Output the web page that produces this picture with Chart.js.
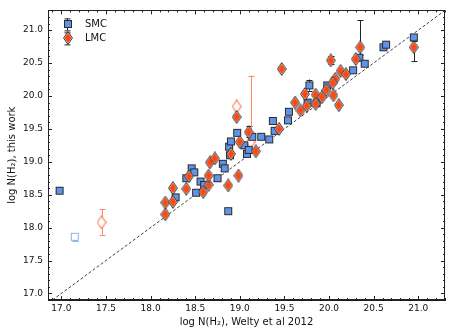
<!DOCTYPE html>
<html><head><meta charset="utf-8">
<script src="https://cdn.jsdelivr.net/npm/chart.js@4/dist/chart.umd.min.js"></script>
<style>html,body{margin:0;padding:0;background:#fff}</style>
</head><body>
<canvas id="c" width="452" height="336"></canvas>
<script>
// ---- data ----
const smcX = [16.98,18.28,18.40,18.46,18.49,18.51,18.56,18.60,18.75,18.87,18.81,18.83,18.89,18.88,18.90,18.97,19.05,19.08,19.10,19.14,19.24,19.33,19.37,19.39,19.55,19.54,19.78,19.76,19.86,19.98,20.27,20.34,20.40,20.61,20.64,20.95];
const smcY = [18.56,18.46,18.75,18.90,18.84,18.53,18.70,18.65,18.75,18.25,18.97,18.90,19.10,19.23,19.31,19.44,19.25,19.12,19.18,19.38,19.38,19.34,19.62,19.47,19.76,19.63,20.16,19.90,19.89,20.16,20.39,20.58,20.49,20.74,20.78,20.89];
const lmcX = [18.165,18.165,18.25,18.25,18.40,18.43,18.59,18.65,18.65,18.665,18.72,18.87,18.985,18.90,18.965,19.00,19.10,19.18,19.44,19.47,19.68,19.62,19.75,19.73,19.85,19.85,19.92,19.97,20.05,20.11,20.02,20.07,20.04,20.13,20.19,20.30,20.35,20.95];
const lmcY = [18.20,18.38,18.39,18.60,18.59,18.78,18.54,18.65,18.79,18.99,19.05,18.64,18.79,19.12,19.68,19.30,19.45,19.16,19.50,20.41,19.78,19.90,19.85,20.03,20.02,19.88,19.98,20.09,20.01,19.86,20.54,20.26,20.20,20.38,20.33,20.56,20.74,20.74];
const smcOpenX = [17.15];
const smcOpenY = [17.86];
const lmcOpenX = [17.45,18.965,19.12];
const lmcOpenY = [18.08,19.84,19.30];
// error bars (x, low, high)
const smcErrX = [19.78,20.95];
const smcErrLo = [20.08,20.84];
const smcErrHi = [20.25,20.94];
const lmcErrX = [19.10,20.02,20.35,20.95];
const lmcErrLo = [19.38,20.48,20.62,20.53];
const lmcErrHi = [19.54,20.61,21.15,20.86];
const smcOpenErrX = [17.15];
const smcOpenErrLo = [17.80];
const smcOpenErrHi = [17.90];
const lmcOpenErrX = [17.45,19.12];
const lmcOpenErrLo = [17.88,19.20];
const lmcOpenErrHi = [18.28,20.31];
const xTicks = [17.0,17.5,18.0,18.5,19.0,19.5,20.0,20.5,21.0];
const yTicks = [17.0,17.5,18.0,18.5,19.0,19.5,20.0,20.5,21.0];
const diag = [16.9, 21.3];

// ---- marker images ----
function squareImg(fill, stroke){
  const c=document.createElement('canvas'); c.width=10; c.height=10;
  const g=c.getContext('2d');
  g.fillStyle=fill; g.fillRect(1,1,8,8);
  g.strokeStyle=stroke; g.lineWidth=1; g.strokeRect(1.5,1.5,7,7);
  return c;
}
function diamondImg(open){
  const c=document.createElement('canvas'); c.width=10; c.height=14;
  const g=c.getContext('2d');
  g.beginPath(); g.moveTo(5,0.6); g.lineTo(9.4,7); g.lineTo(5,13.4); g.lineTo(0.6,7); g.closePath();
  g.fillStyle= open ? '#ffffff' : '#e8e8e8'; g.fill();
  g.strokeStyle= open ? '#ff7a55' : '#333333'; g.lineWidth= open ? 1.1 : 1; g.stroke();
  if(!open){
    g.beginPath(); g.moveTo(5,1.9); g.lineTo(8.4,7); g.lineTo(5,12.1); g.lineTo(1.6,7); g.closePath();
    g.fillStyle='#ff4510'; g.fill();
  }
  return c;
}
const SQ = squareImg('#6193e6','#2b2b2b');
const SQO = squareImg('#ffffff','#8db1ee');
const DM = diamondImg(false);
const DMO = diamondImg(true);

const pts = (xs, ys) => xs.map((x,i)=>({x, y: ys[i]}));

const decor = {
  id:'decor',
  beforeDatasetsDraw(chart){
    const ctx=chart.ctx, xs=chart.scales.x, ys=chart.scales.y;
    const bars=[[smcErrX,smcErrLo,smcErrHi,'#222'],[lmcErrX,lmcErrLo,lmcErrHi,'#222'],
      [smcOpenErrX,smcOpenErrLo,smcOpenErrHi,'#8db1ee'],[lmcOpenErrX,lmcOpenErrLo,lmcOpenErrHi,'#ff8a66']];
    ctx.save(); ctx.lineWidth=1;
    bars.forEach(([X,L,H,col])=>{
      ctx.strokeStyle=col;
      X.forEach((x,i)=>{
        const px=Math.round(xs.getPixelForValue(x))+0.5, p1=ys.getPixelForValue(L[i]), p2=ys.getPixelForValue(H[i]);
        ctx.beginPath(); ctx.moveTo(px,p1); ctx.lineTo(px,p2);
        ctx.moveTo(px-3,Math.round(p1)+0.5); ctx.lineTo(px+3,Math.round(p1)+0.5);
        ctx.moveTo(px-3,Math.round(p2)+0.5); ctx.lineTo(px+3,Math.round(p2)+0.5);
        ctx.stroke();
      });
    });
    ctx.restore();
  },
  afterDraw(chart){
    const ctx=chart.ctx, a=chart.chartArea, xs=chart.scales.x, ys=chart.scales.y;
    ctx.save();
    ctx.strokeStyle='#222'; ctx.lineWidth=1;
    ctx.strokeRect(Math.round(a.left)+0.5, Math.round(a.top)+0.5, Math.round(a.right-a.left)-1, Math.round(a.bottom-a.top)-1);
    ctx.beginPath();
    for(let k=169;k<=213;k++){
      const v=k/10, major=(k%5===0), L=major?4:2;
      if(v>=16.85 && v<=21.3){
        const px=Math.round(xs.getPixelForValue(v))+0.5;
        ctx.moveTo(px,a.bottom); ctx.lineTo(px,a.bottom-L);
        ctx.moveTo(px,a.top); ctx.lineTo(px,a.top+L);
      }
      if(v>=16.9 && v<=21.3){
        const py=Math.round(ys.getPixelForValue(v))+0.5;
        ctx.moveTo(a.left,py); ctx.lineTo(a.left+L,py);
        ctx.moveTo(a.right,py); ctx.lineTo(a.right-L,py);
      }
    }
    ctx.stroke();
    // legend
    const lx=a.left+19;
    [[a.top+14,SQ,'SMC'],[a.top+28,DM,'LMC']].forEach(([y,img,t])=>{
      ctx.strokeStyle='#222';
      ctx.beginPath(); ctx.moveTo(lx+0.5,y-6); ctx.lineTo(lx+0.5,y+6);
      ctx.moveTo(lx-2.5,y-5.5); ctx.lineTo(lx+3.5,y-5.5);
      ctx.moveTo(lx-2.5,y+6.5); ctx.lineTo(lx+3.5,y+6.5); ctx.stroke();
      ctx.drawImage(img, Math.round(lx-img.width/2)+1, Math.round(y-img.height/2));
      ctx.fillStyle='#111'; ctx.font='10px "DejaVu Sans"'; ctx.textBaseline='middle'; ctx.textAlign='left';
      ctx.fillText(t, lx+18, y+0.5);
    });
    ctx.restore();
  }
};

new Chart(document.getElementById('c'), {
  type:'scatter',
  data:{datasets:[
    {label:'y=x', data:[{x:diag[0],y:diag[0]},{x:diag[1],y:diag[1]}], showLine:true, borderColor:'#444', borderWidth:1, borderDash:[3,2], pointRadius:0, order:10},
    {label:'SMC open', data:pts(smcOpenX,smcOpenY), pointStyle:SQO, order:3},
    {label:'LMC open', data:pts(lmcOpenX,lmcOpenY), pointStyle:DMO, order:3},
    {label:'SMC', data:pts(smcX,smcY), pointStyle:SQ, order:2},
    {label:'LMC', data:pts(lmcX,lmcY), pointStyle:DM, order:1}
  ]},
  options:{
    responsive:false, animation:false, devicePixelRatio:1,
    layout:{padding:{top:7,right:7,left:0,bottom:0}},
    plugins:{legend:{display:false}, tooltip:{enabled:false}},
    scales:{
      x:{type:'linear', min:16.85, max:21.3,
        afterBuildTicks:s=>{s.ticks=xTicks.map(v=>({value:v}));},
        afterFit:s=>{s.height=36;},
        grid:{display:false, drawTicks:false},
        border:{display:true,color:'#222',width:1},
        ticks:{callback:v=>v.toFixed(1), font:{family:'DejaVu Sans',size:9}, color:'#111', padding:3, maxRotation:0, autoSkip:false},
        title:{display:true, text:'log N(H\u2082), Welty et al 2012', font:{family:'DejaVu Sans',size:10}, color:'#111', padding:{top:0,bottom:8}}
      },
      y:{type:'linear', min:16.9, max:21.3,
        afterBuildTicks:s=>{s.ticks=yTicks.map(v=>({value:v}));},
        afterFit:s=>{s.width=48;},
        grid:{display:false, drawTicks:false},
        border:{display:true,color:'#222',width:1},
        ticks:{callback:v=>v.toFixed(1), font:{family:'DejaVu Sans',size:9}, color:'#111', padding:5, autoSkip:false},
        title:{display:true, text:'log N(H\u2082), this work', font:{family:'DejaVu Sans',size:10}, color:'#111', padding:{top:6,bottom:0}}
      }
    }
  },
  plugins:[decor]
});
</script>
</body></html>
